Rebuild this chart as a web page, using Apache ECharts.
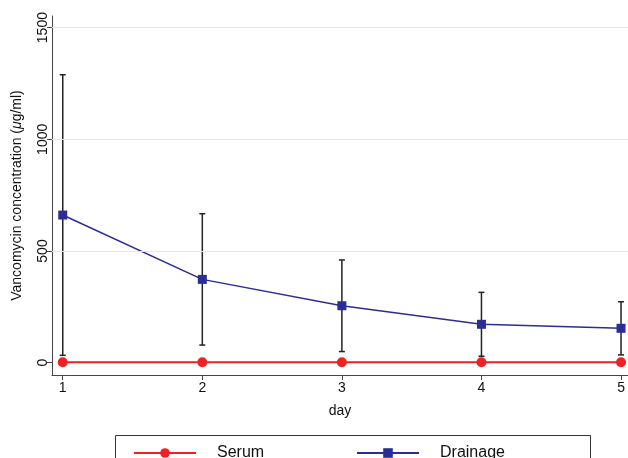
<!DOCTYPE html>
<html><head><meta charset="utf-8">
<script src="https://cdn.jsdelivr.net/npm/echarts@6/dist/echarts.min.js"></script>
<style>html,body{margin:0;padding:0;background:#fff}#c{width:628px;height:458px}</style>
</head><body><div id="c"></div>
<script>
const days = [1, 2, 3, 4, 5];
const serum = [2, 2, 2, 2, 2];
const drainage = [661, 373, 255, 172, 154];
const drainageLow = [33, 79, 50, 29, 35];
const drainageHigh = [1289, 667, 460, 315, 273];
const yTicks = [0, 500, 1000, 1500];
const xTicks = [1, 2, 3, 4, 5];

const font = 'Liberation Sans, Arial, Helvetica, sans-serif';
const chart = echarts.init(document.getElementById('c'), null, {renderer: 'canvas'});
const errData = days.map((d, i) => [d, drainageLow[i], drainageHigh[i]]);

chart.setOption({
  backgroundColor: '#fff',
  animation: false,
  grid: {left: 52, right: 0, top: 16, bottom: 83, containLabel: false, outerBoundsMode: 'none'},
  xAxis: {
    type: 'value', min: 0.923, max: 5.05,
    name: 'day', nameLocation: 'middle', nameGap: 29,
    nameTextStyle: {fontFamily: font, fontSize: 14, color: '#111'},
    axisLine: {show: true, onZero: false, lineStyle: {color: '#4a4444', width: 1}},
    axisTick: {show: true, length: 5, customValues: xTicks, lineStyle: {color: '#4a4444'}},
    axisLabel: {customValues: xTicks, fontFamily: font, fontSize: 14, color: '#111', margin: 6, formatter: v => String(v)},
    splitLine: {show: false}
  },
  yAxis: {
    type: 'value', min: -55, max: 1552,
    name: '{a|Vancomycin concentration (}{b|μ}{a|g/ml)}', nameLocation: 'middle', nameGap: 28, nameRotate: 90,
    nameTextStyle: {rich: {a: {fontFamily: font, fontSize: 14, color: '#111'}, b: {fontFamily: font, fontSize: 14, fontStyle: 'italic', color: '#111'}}},
    axisLine: {show: true, onZero: false, lineStyle: {color: '#4a4444', width: 1}},
    axisTick: {show: true, length: 5, customValues: yTicks, lineStyle: {color: '#4a4444'}},
    axisLabel: {customValues: yTicks, rotate: 90, fontFamily: font, fontSize: 14, color: '#111', margin: 2, formatter: v => String(v)},
    splitLine: {show: false}
  },
  legend: [
    {data: ['Serum'], left: 128, top: 440, itemWidth: 62, itemHeight: 12, textStyle: {fontFamily: font, fontSize: 16, color: '#111', padding: [0,0,0,16]}},
    {data: ['Drainage'], left: 351, top: 440, itemWidth: 62, itemHeight: 12, textStyle: {fontFamily: font, fontSize: 16, color: '#111', padding: [0,0,0,16]}}
  ],
  graphic: [{type: 'rect', shape: {x: 115.5, y: 435.5, width: 475, height: 40}, style: {fill: 'none', stroke: '#333', lineWidth: 1}, z: 0}],
  series: [
    {
      name: 'grid', type: 'line', data: [], silent: true,
      markLine: {symbol: 'none', silent: true, label: {show: false},
        lineStyle: {color: '#e3e6ea', type: 'solid', width: 1},
        data: yTicks.filter(v => v > 0).map(v => ({yAxis: v}))}
    },
    {
      name: 'err', type: 'custom', data: errData, z: 3,
      renderItem: function (params, api) {
        const x = api.value(0);
        const lo = api.coord([x, api.value(1)]);
        const hi = api.coord([x, api.value(2)]);
        const w = 3;
        const st = {stroke: '#222', lineWidth: 1.5};
        return {type: 'group', children: [
          {type: 'line', shape: {x1: lo[0], y1: lo[1], x2: hi[0], y2: hi[1]}, style: st},
          {type: 'line', shape: {x1: lo[0]-w, y1: lo[1], x2: lo[0]+w, y2: lo[1]}, style: st},
          {type: 'line', shape: {x1: hi[0]-w, y1: hi[1], x2: hi[0]+w, y2: hi[1]}, style: st}
        ]};
      }
    },
    {
      name: 'Serum', type: 'line', data: days.map((d, i) => [d, serum[i]]), z: 5,
      symbol: 'circle', symbolSize: 10, itemStyle: {color: '#ee2222'},
      lineStyle: {color: '#ee2222', width: 2}
    },
    {
      name: 'Drainage', type: 'line', data: days.map((d, i) => [d, drainage[i]]), z: 4,
      symbol: 'rect', symbolSize: 9, itemStyle: {color: '#2a2d96'},
      lineStyle: {color: '#2a2d96', width: 1.5}
    }
  ]
});
</script></body></html>
